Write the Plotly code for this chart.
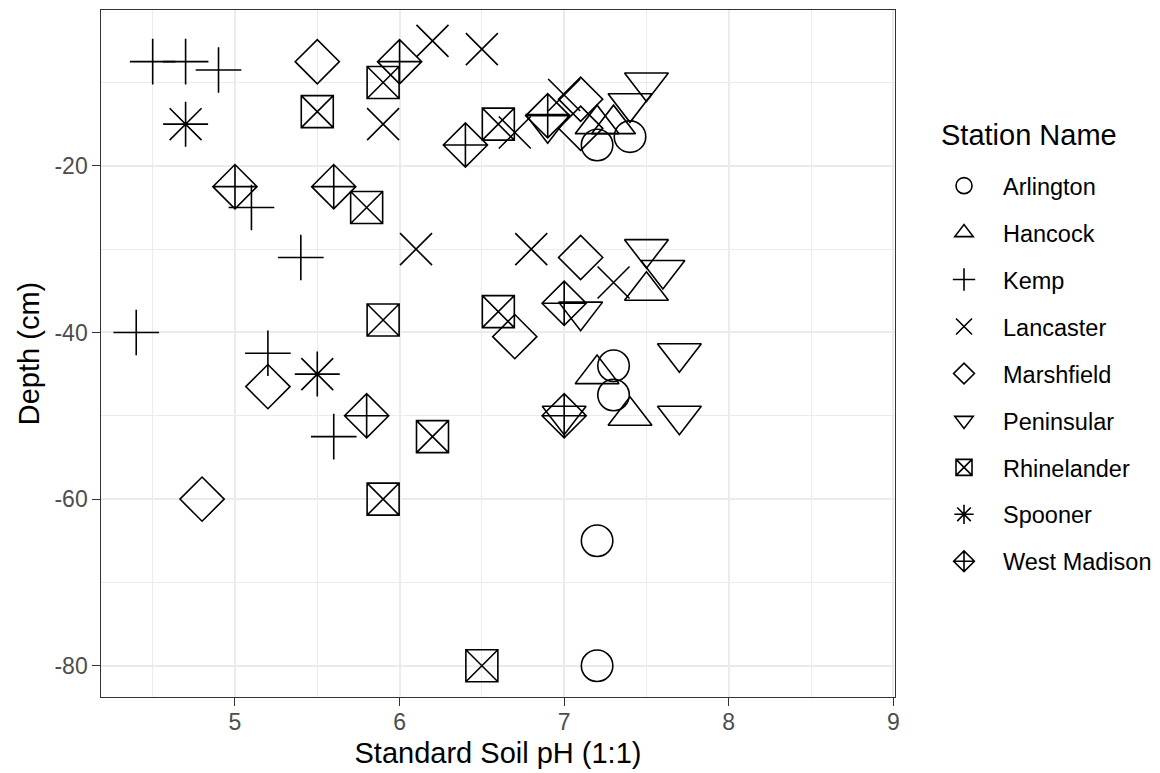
import plotly.graph_objects as go

# ---- data ----
stations = ["Arlington", "Hancock", "Kemp", "Lancaster", "Marshfield",
            "Peninsular", "Rhinelander", "Spooner", "West Madison"]

arlington_ph = [7.2, 7.4, 7.3, 7.3, 7.2, 7.2]
arlington_depth = [-17.5, -16.5, -44, -47.5, -65, -80]

hancock_ph = [7.2, 7.3, 7.5, 7.2, 7.4]
hancock_depth = [-15, -15, -35, -45, -50]

kemp_ph = [4.5, 4.7, 4.9, 5.1, 5.4, 4.4, 5.2, 5.6]
kemp_depth = [-7.5, -7.5, -8.5, -25, -31, -40, -42.5, -52.5]

lancaster_ph = [6.2, 6.5, 5.9, 6.7, 7.0, 6.1, 6.8, 7.3]
lancaster_depth = [-5, -6, -15, -16, -11.5, -30, -30, -34]

marshfield_ph = [5.5, 7.1, 7.1, 7.1, 6.7, 5.2, 4.8]
marshfield_depth = [-7.5, -12, -15.5, -31, -40.5, -46.5, -60]

peninsular_ph = [7.5, 7.4, 6.9, 7.5, 7.6, 7.1, 7.7, 7.0, 7.7]
peninsular_depth = [-10, -12.5, -15, -30, -32.5, -37.5, -42.5, -50, -50]

rhinelander_ph = [5.9, 5.5, 6.6, 5.8, 5.9, 6.6, 6.2, 5.9, 6.5]
rhinelander_depth = [-10, -13.5, -15, -25, -38.5, -37.5, -52.5, -60, -80]

spooner_ph = [4.7, 5.5]
spooner_depth = [-15, -45]

westmadison_ph = [6.0, 6.4, 6.9, 5.0, 5.6, 7.0, 5.8, 7.0]
westmadison_depth = [-7.5, -17.5, -14, -22.5, -22.5, -36.5, -50, -50]

x_ticks = [5, 6, 7, 8, 9]
x_ticklabels = ["5", "6", "7", "8", "9"]
y_ticks = [-20, -40, -60, -80]
y_ticklabels = ["-20", "-40", "-60", "-80"]

# ---- styling ----
series = [
    (arlington_ph, arlington_depth, "circle-open", 31.5),
    (hancock_ph, hancock_depth, "triangle-up-open", 38),
    (kemp_ph, kemp_depth, "cross-thin-open", 32.6),
    (lancaster_ph, lancaster_depth, "x-thin-open", 32),
    (marshfield_ph, marshfield_depth, "diamond-open", 34),
    (peninsular_ph, peninsular_depth, "triangle-down-open", 38),
    (rhinelander_ph, rhinelander_depth, "square-x-open", 32),
    (spooner_ph, spooner_depth, "asterisk-open", 37.5),
    (westmadison_ph, westmadison_depth, "diamond-cross-open", 34),
]

FONT = "Liberation Sans, Arial, Helvetica, sans-serif"

fig = go.Figure()
for name, (xs, ys, sym, sz) in zip(stations, series):
    fig.add_trace(go.Scatter(
        x=xs, y=ys, mode="markers", name=name, legendgroup=name,
        marker=dict(symbol=sym, size=sz, color="black",
                    line=dict(width=1.6, color="black")),
    ))

axis_common = dict(
    showline=True, linecolor="#333333", linewidth=1.4, mirror=True,
    ticks="outside", ticklen=7.5, tickwidth=1.4, tickcolor="#333333",
    tickfont=dict(family=FONT, size=23, color="#4D4D4D"),
    showgrid=True, gridcolor="#EBEBEB", gridwidth=2,
    zeroline=False, automargin=False,
)

# The page body has an 8px default margin, so the figure is 8px smaller
# than the window and its margins are reduced by 8px on top/left.
fig.update_layout(
    width=1152, height=765,
    margin=dict(l=93, r=265, t=2, b=76, autoexpand=False),
    paper_bgcolor="white", plot_bgcolor="white",
    font=dict(family=FONT, color="black"),
    xaxis=dict(
        range=[4.186, 9.01], tickvals=x_ticks, ticktext=x_ticklabels,
        ticklabelstandoff=-3,
        minor=dict(tickvals=[4.5, 5.5, 6.5, 7.5, 8.5], showgrid=True,
                   gridcolor="#EBEBEB", gridwidth=1, ticks=""),
        title=dict(text="Standard Soil pH (1:1)",
                   font=dict(family=FONT, size=29, color="black"), standoff=8),
        **axis_common,
    ),
    yaxis=dict(
        range=[-83.75, -1.3], tickvals=y_ticks, ticktext=y_ticklabels,
        minor=dict(tickvals=[-10, -30, -50, -70], showgrid=True,
                   gridcolor="#EBEBEB", gridwidth=1, ticks=""),
        title=dict(text="Depth (cm)",
                   font=dict(family=FONT, size=29, color="black"), standoff=6),
        **axis_common,
    ),
    legend=dict(
        font=dict(family=FONT, size=23.5, color="black"),
        x=1.0378, xanchor="left", y=0.776, yanchor="top",
        tracegroupgap=13.4, itemwidth=68,
        bgcolor="rgba(0,0,0,0)",
    ),
    showlegend=True,
    annotations=[dict(
        text="Station Name", xref="paper", yref="paper",
        x=1.0555, xanchor="left", y=0.818, yanchor="middle",
        showarrow=False, font=dict(family=FONT, size=29, color="black"),
    )],
)

fig.write_html("out.html")
